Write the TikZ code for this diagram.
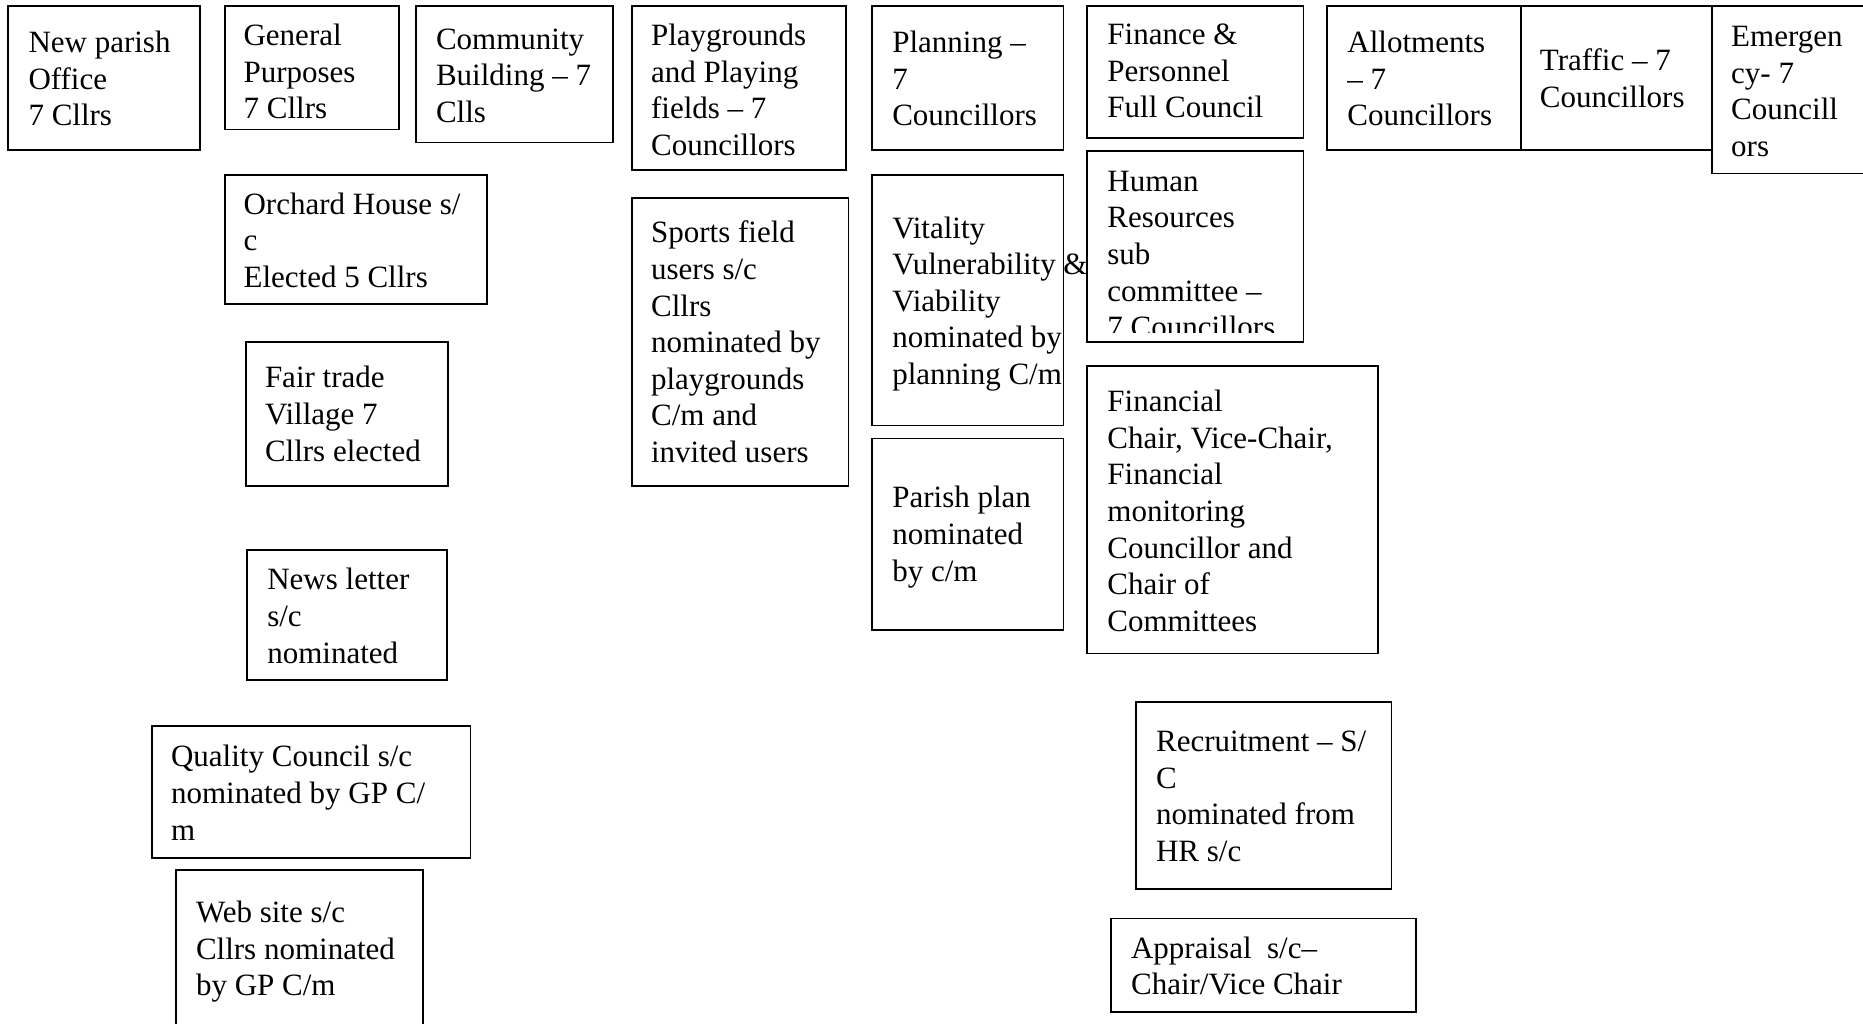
\documentclass[tikz,border=0pt]{standalone}
\usepackage{fontspec}
\setmainfont{Liberation Serif}
\newcommand\fstrut{\rule{0pt}{24pt}}
\begin{document}
\begin{tikzpicture}[x=1pt,y=-1pt,
  box/.style={draw=black,line width=1.8pt,inner sep=0pt,outer sep=0pt,anchor=north west},
  txt/.style={inner sep=0pt,outer sep=0pt,anchor=north west,align=left,
    font=\fontsize{31pt}{36.6pt}\selectfont}]
\useasboundingbox (0,0) rectangle (1863,1024);
\clip (0,0) rectangle (1863,1024);
\fill[white] (0,0) rectangle (1863,1024);
% top row
\node[box,minimum width=191.3pt,minimum height=143.8pt] (np) at (8.3,5.9) {};
\node[txt] (npt) at (28.5,28.8) {\fstrut New parish\\Office\\7 Cllrs};
\node[box,minimum width=174.6pt,minimum height=123.6pt] (gp) at (224.6,5.9) {};
\node[txt] (gpt) at (243.6,21.6) {\fstrut General\\Purposes\\7 Cllrs};
\node[box,minimum width=197.2pt,minimum height=136.7pt] (cb) at (415.9,5.9) {};
\node[txt] (cbt) at (436,25.2) {\fstrut Community\\Building – 7\\Clls};
\node[box,minimum width=213.9pt,minimum height=164pt] (pg) at (632.1,5.9) {};
\node[txt] (pgt) at (651.1,21.6) {\fstrut Playgrounds\\and Playing\\fields – 7\\Councillors};
\node[box,minimum width=191.3pt,minimum height=143.8pt] (pl) at (872.1,5.9) {};
\node[txt] (plt) at (892.3,28.8) {\fstrut Planning –\\7\\Councillors};
\node[box,minimum width=216.2pt,minimum height=131.9pt] (fp) at (1087.2,5.9) {};
\node[txt] (fpt) at (1107.4,20.5) {\fstrut Finance \&\\Personnel\\Full Council};
\node[box,minimum width=193.7pt,minimum height=143.8pt] (al) at (1327.2,5.9) {};
\node[txt] (alt) at (1347.4,28.8) {\fstrut Allotments\\– 7\\Councillors};
\node[box,minimum width=191.3pt,minimum height=143.8pt] (tr) at (1520.9,5.9) {};
\node[txt] (trt) at (1539.9,46.6) {\fstrut Traffic – 7\\Councillors};
\node[box,minimum width=200pt,minimum height=167.6pt] (em) at (1712.2,5.9) {};
\node[txt] (emt) at (1731.2,22.8) {\fstrut Emergen\\cy- 7\\Councill\\ors};
% left column
\node[box,minimum width=262.6pt,minimum height=129.5pt] (oh) at (224.6,174.7) {};
\node[txt] (oht) at (243.6,190.4) {\fstrut Orchard House s/\\c\\Elected 5 Cllrs};
\node[box,minimum width=202pt,minimum height=143.8pt] (ft) at (246,342.2) {};
\node[txt] (ftt) at (265,363.8) {\fstrut Fair trade\\Village 7\\Cllrs elected};
\node[box,minimum width=199.7pt,minimum height=129.6pt] (nl) at (247.1,550.1) {};
\node[txt] (nlt) at (267.3,565.8) {\fstrut News letter\\s/c\\nominated};
\node[box,minimum width=318.4pt,minimum height=131.9pt] (qc) at (152.1,726) {};
\node[txt] (qct) at (171.1,742.9) {\fstrut Quality Council s/c\\nominated by GP C/\\m};
\node[box,minimum width=247.1pt,minimum height=200pt] (ws) at (175.9,869.8) {};
\node[txt] (wst) at (196,898.5) {\fstrut Web site s/c\\Cllrs nominated\\by GP C/m};
% middle columns
\node[box,minimum width=216.3pt,minimum height=287.6pt] (sf) at (632.1,198.4) {};
\node[txt] (sft) at (651.1,218.9) {\fstrut Sports field\\users s/c\\Cllrs\\nominated by\\playgrounds\\C/m and\\invited users};
\node[txt] (vit) at (892.3,214.1) {\fstrut Vitality\\Vulnerability \&\\Viability\\nominated by\\planning C/m};
\node[box,minimum width=191.3pt,minimum height=250.7pt] (vi) at (872.1,174.7) {};
\node[box,minimum width=191.3pt,minimum height=191.3pt] (pp) at (872.1,438.4) {};
\node[txt] (ppt) at (892.3,483.9) {\fstrut Parish plan\\nominated\\by c/m};
% finance column
\node[box,minimum width=216.2pt,minimum height=191.3pt] (hr) at (1087.2,150.9) {};
\begin{scope}
\clip (1087.2,150.9) rectangle (1303.4,332);
\node[txt] (hrt) at (1107.4,167.4) {\fstrut Human\\Resources\\sub\\committee –\\7 Councillors};
\end{scope}
\node[box,minimum width=291.1pt,minimum height=287.5pt] (fi) at (1087.2,366) {};
\node[txt] (fit) at (1107.4,387.6) {\fstrut Financial\\Chair, Vice-Chair,\\Financial\\monitoring\\Councillor and\\Chair of\\Committees};
\node[box,minimum width=255.5pt,minimum height=186.6pt] (re) at (1135.9,702.2) {};
\node[txt] (ret) at (1156.1,727.4) {\fstrut Recruitment – S/\\C\\nominated from\\HR s/c};
\node[box,minimum width=305.3pt,minimum height=93.8pt] (ap) at (1111,918.5) {};
\node[txt] (apt) at (1131.1,934.2) {\fstrut Appraisal\ \ s/c–\\Chair/Vice Chair};
\end{tikzpicture}
\end{document}
